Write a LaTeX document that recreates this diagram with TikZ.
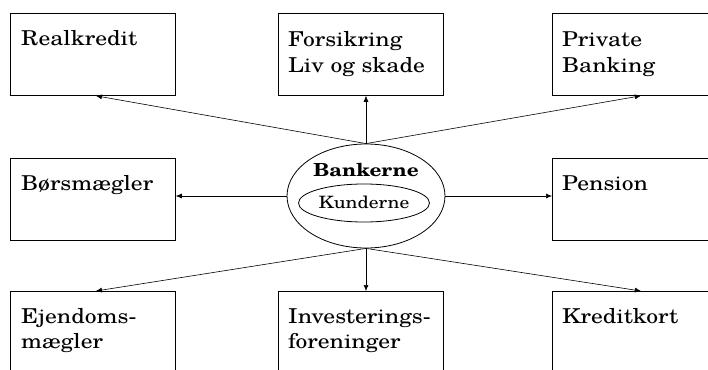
\documentclass[tikz,border=0pt]{standalone}
\usepackage{fontspec}
\setmainfont[FakeStretch=1.15]{TeX Gyre Schola}
\usetikzlibrary{shapes.geometric,arrows.meta}
\begin{document}
\begin{tikzpicture}[x=1pt,y=-1pt,
  box/.style={draw,line width=0.8pt,minimum width=165pt,minimum height=82pt,anchor=north west,inner sep=0pt},
  lbl/.style={anchor=base west,inner sep=0pt,align=left,font=\fontsize{20.5}{25.5}\selectfont},
  arr/.style={line width=0.6pt,-{Latex[length=6pt,width=5pt]}},
  ell/.style={draw,ellipse,line width=0.8pt,inner sep=0pt}]
\useasboundingbox (0,0) rectangle (708,369);
\clip (0,0) rectangle (708,369);
% boxes
\node[box] (real) at (10,13) {};
\node[box] (fors) at (278,13) {};
\node[box] (priv) at (552,13) {};
\node[box] (boer) at (10,158) {};
\node[box] (pens) at (552,158) {};
\node[box] (ejen) at (10,291) {};
\node[box] (inve) at (278,291) {};
\node[box] (kred) at (552,291) {};
% labels (base = last line)
\node[lbl] (treal) at (21,45.5) {Realkredit};
\node[lbl] (tfors) at (288,72) {Forsikring\\Liv og skade};
\node[lbl] (tpriv) at (562,72) {Private\\Banking};
\node[lbl] (tboer) at (21,190.5) {Børsmægler};
\node[lbl] (tpens) at (562,190.5) {Pension};
\node[lbl] (tejen) at (21,348.5) {Ejendoms-\\mægler};
\node[lbl] (tinve) at (288,348.5) {Investerings-\\foreninger};
\node[lbl] (tkred) at (562,323) {Kreditkort};
% centre
\node[ell,minimum width=158pt,minimum height=104pt] (bank) at (366,196) {};
\node[ell,minimum width=131pt,minimum height=38pt] (kund) at (364,203) {};
\node[font=\fontsize{18}{20}\selectfont\bfseries,inner sep=0pt,anchor=base] (tbank) at (366,176) {Bankerne};
\node[font=\fontsize{17}{19}\selectfont,inner sep=0pt,anchor=base] (tkund) at (364,208.5) {Kunderne};
% connectors
\draw[arr] (bank.north) -- ([xshift=3pt]real.south);
\draw[arr] (bank.north) -- (fors.south -| bank.north);
\draw[arr] (bank.north) -- ([xshift=6pt]priv.south);
\draw[arr] (bank.west) -- (boer.east |- bank.west);
\draw[arr] (bank.east) -- (pens.west |- bank.east);
\draw[arr] (bank.south) -- ([xshift=3pt]ejen.north);
\draw[arr] (bank.south) -- (inve.north -| bank.south);
\draw[arr] (bank.south) -- ([xshift=6pt]kred.north);
\end{tikzpicture}
\end{document}
